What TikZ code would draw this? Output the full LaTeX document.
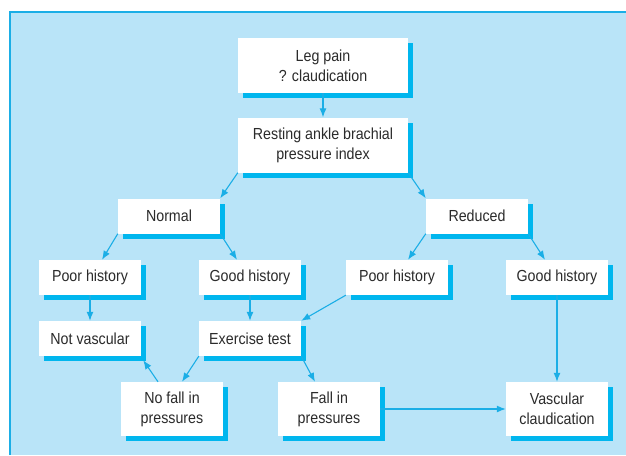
\documentclass[tikz,border=0pt]{standalone}
\usepackage{fontspec}
\setmainfont{Liberation Sans}[FakeStretch=0.89]
\usetikzlibrary{shadows,arrows.meta}
\definecolor{bgblue}{HTML}{B9E4F8}
\definecolor{cyanline}{HTML}{1BAEE6}
\definecolor{shadowc}{HTML}{00B6EE}
\definecolor{txt}{HTML}{2B2B2B}
\tikzset{
  box/.style={fill=white, draw=none, inner sep=0pt, align=center,
    text=txt, font=\fontsize{16}{20}\selectfont,
    drop shadow={shadow xshift=5pt, shadow yshift=-5pt, fill=shadowc, opacity=1}},
  small/.style={box, minimum width=102pt, minimum height=35pt},
  tall/.style={box, minimum width=102pt, minimum height=54pt},
  wide/.style={box, minimum width=170pt, minimum height=55pt},
  arr/.style={draw=cyanline, line width=1.1pt, -{Latex[length=9pt,width=7pt]}},
}
\begin{document}
\begin{tikzpicture}[x=1pt,y=-1pt]
\useasboundingbox (0,0) rectangle (626,455);
\fill[bgblue] (10,12) rectangle (626,455);
\draw[cyanline, line width=1.5pt] (10,455) -- (10,12) -- (626,12);

\node[wide] (leg) at (323,65.5) {Leg pain\\? claudication};
\node[wide] (rest) at (323,145) {Resting ankle brachial\\pressure index};
\node[small] (normal) at (169,216) {Normal};
\node[small] (reduced) at (477,216) {Reduced};
\node[small] (poorL) at (90,277.5) {Poor history};
\node[small] (goodL) at (250,277.5) {Good history};
\node[small] (poorR) at (397,277.5) {Poor history};
\node[small] (goodR) at (557,277.5) {Good history};
\node[small] (notv) at (90,338.5) {Not vascular};
\node[small] (exer) at (250,338.5) {Exercise test};
\node[tall] (nofall) at (172,409) {No fall in\\pressures};
\node[tall] (fall) at (329,409) {Fall in\\pressures};
\node[tall] (vasc) at (557,409) {Vascular\\claudication};

\draw[arr] (leg.south) -- (rest.north);
\draw[arr] (rest.south west) -- (normal.north east);
\draw[arr] (rest.south east) -- (reduced.north west);
\draw[arr] (normal.south west) -- ([xshift=12pt]poorL.north);
\draw[arr] (normal.south east) -- ([xshift=-13pt]goodL.north);
\draw[arr] (reduced.south west) -- ([xshift=11pt]poorR.north);
\draw[arr] (reduced.south east) -- ([xshift=-12pt]goodR.north);
\draw[arr] (poorL.south) -- (notv.north);
\draw[arr] (goodL.south) -- (exer.north);
\draw[arr] (poorR.south west) -- (exer.north east);
\draw[arr] (goodR.south) -- (vasc.north);
\draw[arr] (exer.south west) -- ([xshift=10pt]nofall.north);
\draw[arr] (exer.south east) -- ([xshift=-14pt]fall.north);
\draw[arr] ([xshift=-14pt]nofall.north) -- ([shift={(2pt,-4pt)}]notv.south east);
\draw[arr] (fall.east) -- (vasc.west);
\end{tikzpicture}
\end{document}
